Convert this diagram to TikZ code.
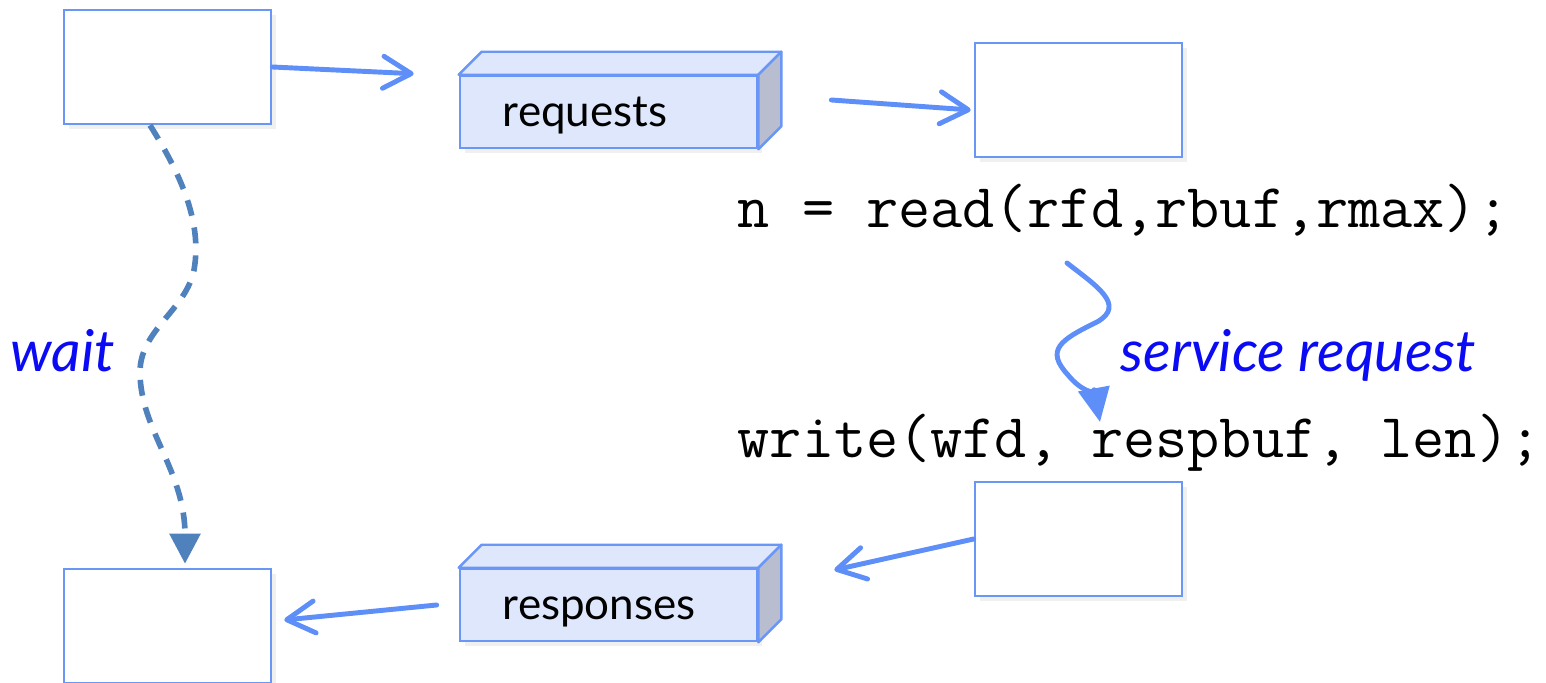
\documentclass[tikz,border=0pt]{standalone}
\usepackage{fontspec}
\newfontfamily\lato{Lato}
\usetikzlibrary{arrows.meta,calc,shadows}
\definecolor{boxline}{HTML}{6A96F5}
\definecolor{arrowblue}{HTML}{5E8EF7}
\definecolor{waitblue}{HTML}{4F81BD}
\definecolor{frontfill}{HTML}{DEE7FB}
\definecolor{sidefill}{HTML}{B8BED0}
\definecolor{labelblue}{HTML}{0A0AF5}
\tikzset{
  procbox/.style={draw=boxline, line width=0.7pt, fill=white, minimum width=2.07cm, minimum height=1.14cm, inner sep=0pt,
    drop shadow={opacity=0.12, shadow xshift=0.5mm, shadow yshift=-0.5mm}},
  cubefront/.style={draw=boxline, line width=0.7pt, fill=frontfill, minimum height=0.72cm, inner xsep=0.43cm, inner ysep=0pt,
    text width=2.11cm, text height=9.2pt, text depth=1.2pt, align=left, font=\lato\fontsize{12.5}{14}\selectfont,
    drop shadow={opacity=0.12, shadow xshift=0.5mm, shadow yshift=-0.5mm}},
  cubetop/.style={draw=boxline, line width=0.7pt, fill=frontfill, line join=round},
  cubeside/.style={draw=boxline, line width=0.7pt, fill=sidefill, line join=round},
  flow/.style={draw=arrowblue, line width=1.4pt, line cap=round, -{Straight Barb[length=2.8mm, width=3.2mm, round]}},
  waitarrow/.style={draw=waitblue, line width=1.6pt, dash pattern=on 1.6mm off 1.2mm, -{Triangle[length=3mm, width=3mm]}},
  servarrow/.style={draw=arrowblue, line width=1.4pt, line cap=round, -{Triangle[length=3.4mm, width=3.1mm]}},
  code/.style={font=\ttfamily\fontsize{17.75}{20}\selectfont, inner sep=0pt, anchor=base west},
  note/.style={font=\lato\itshape\fontsize{16.4}{19}\selectfont, text=labelblue, inner sep=0pt, anchor=base west}
}
\begin{document}
\begin{tikzpicture}[x=0.01cm, y=-0.01cm]
\useasboundingbox (0,0) rectangle (1546,683);
% process boxes
\node[procbox] (tl) at (167.5,67) {};
\node[procbox] (tr) at (1078.5,100) {};
\node[procbox] (br) at (1078.5,539) {};
\node[procbox] (bl) at (167.5,626) {};
% requests cube
\node[cubefront] (req) at (608.5,112) {requests};
\path[cubetop] (req.north west) -- ++(23,-23) -- ($(req.north east)+(23,-23)$) -- (req.north east) -- cycle;
\path[cubeside] (req.north east) -- ++(23,-23) -- ($(req.south east)+(23,-23)$) -- (req.south east) -- cycle;
% responses cube
\node[cubefront] (resp) at (608.5,605) {responses};
\path[cubetop] (resp.north west) -- ++(23,-23) -- ($(resp.north east)+(23,-23)$) -- (resp.north east) -- cycle;
\path[cubeside] (resp.north east) -- ++(23,-23) -- ($(resp.south east)+(23,-23)$) -- (resp.south east) -- cycle;
% code lines
\node[code] (readcall) at (737,228) {n = read(rfd,rbuf,rmax);};
\node[code] (writecall) at (737,458) {write(wfd, respbuf, len);};
% labels
\node[note] (waitlbl) at (10,372) {wait};
\node[note] (servlbl) at (1120,372) {service request};
% connectors
\coordinate (a1e) at ($(req.north west)+(-45,-1)$);
\draw[flow] (tl.east) -- (a1e);
\coordinate (a2s) at ($(req.east)+(73,-12)$);
\coordinate (a2e) at ($(tr.west)+(-3,10)$);
\draw[flow] (a2s) -- (a2e);
\coordinate (a3e) at ($(resp.east)+(76,-35)$);
\draw[flow] (br.west) -- (a3e);
\coordinate (a4s) at ($(resp.west)+(-22,0)$);
\coordinate (a4e) at ($(bl.east)+(12,-6)$);
\draw[flow] (a4s) -- (a4e);
% wait
\draw[waitarrow] ($(tl.south)+(-17.5,0)$) .. controls (178,170) and (203,220) .. (194,270)
   .. controls (186,310) and (140,330) .. (140,372)
   .. controls (140,430) and (185,470) .. ($(bl.north)+(17.5,-4)$);
% service request squiggle
\coordinate (s0) at (1067,263);
\coordinate (s3) at (1100,422);
\draw[servarrow] (s0) .. controls (1095,285) and (1127,305) .. (1097,322)
   .. controls (1060,340) and (1045,350) .. (1068,375)
   .. controls (1080,390) and (1095,395) .. (s3);
\end{tikzpicture}
\end{document}
